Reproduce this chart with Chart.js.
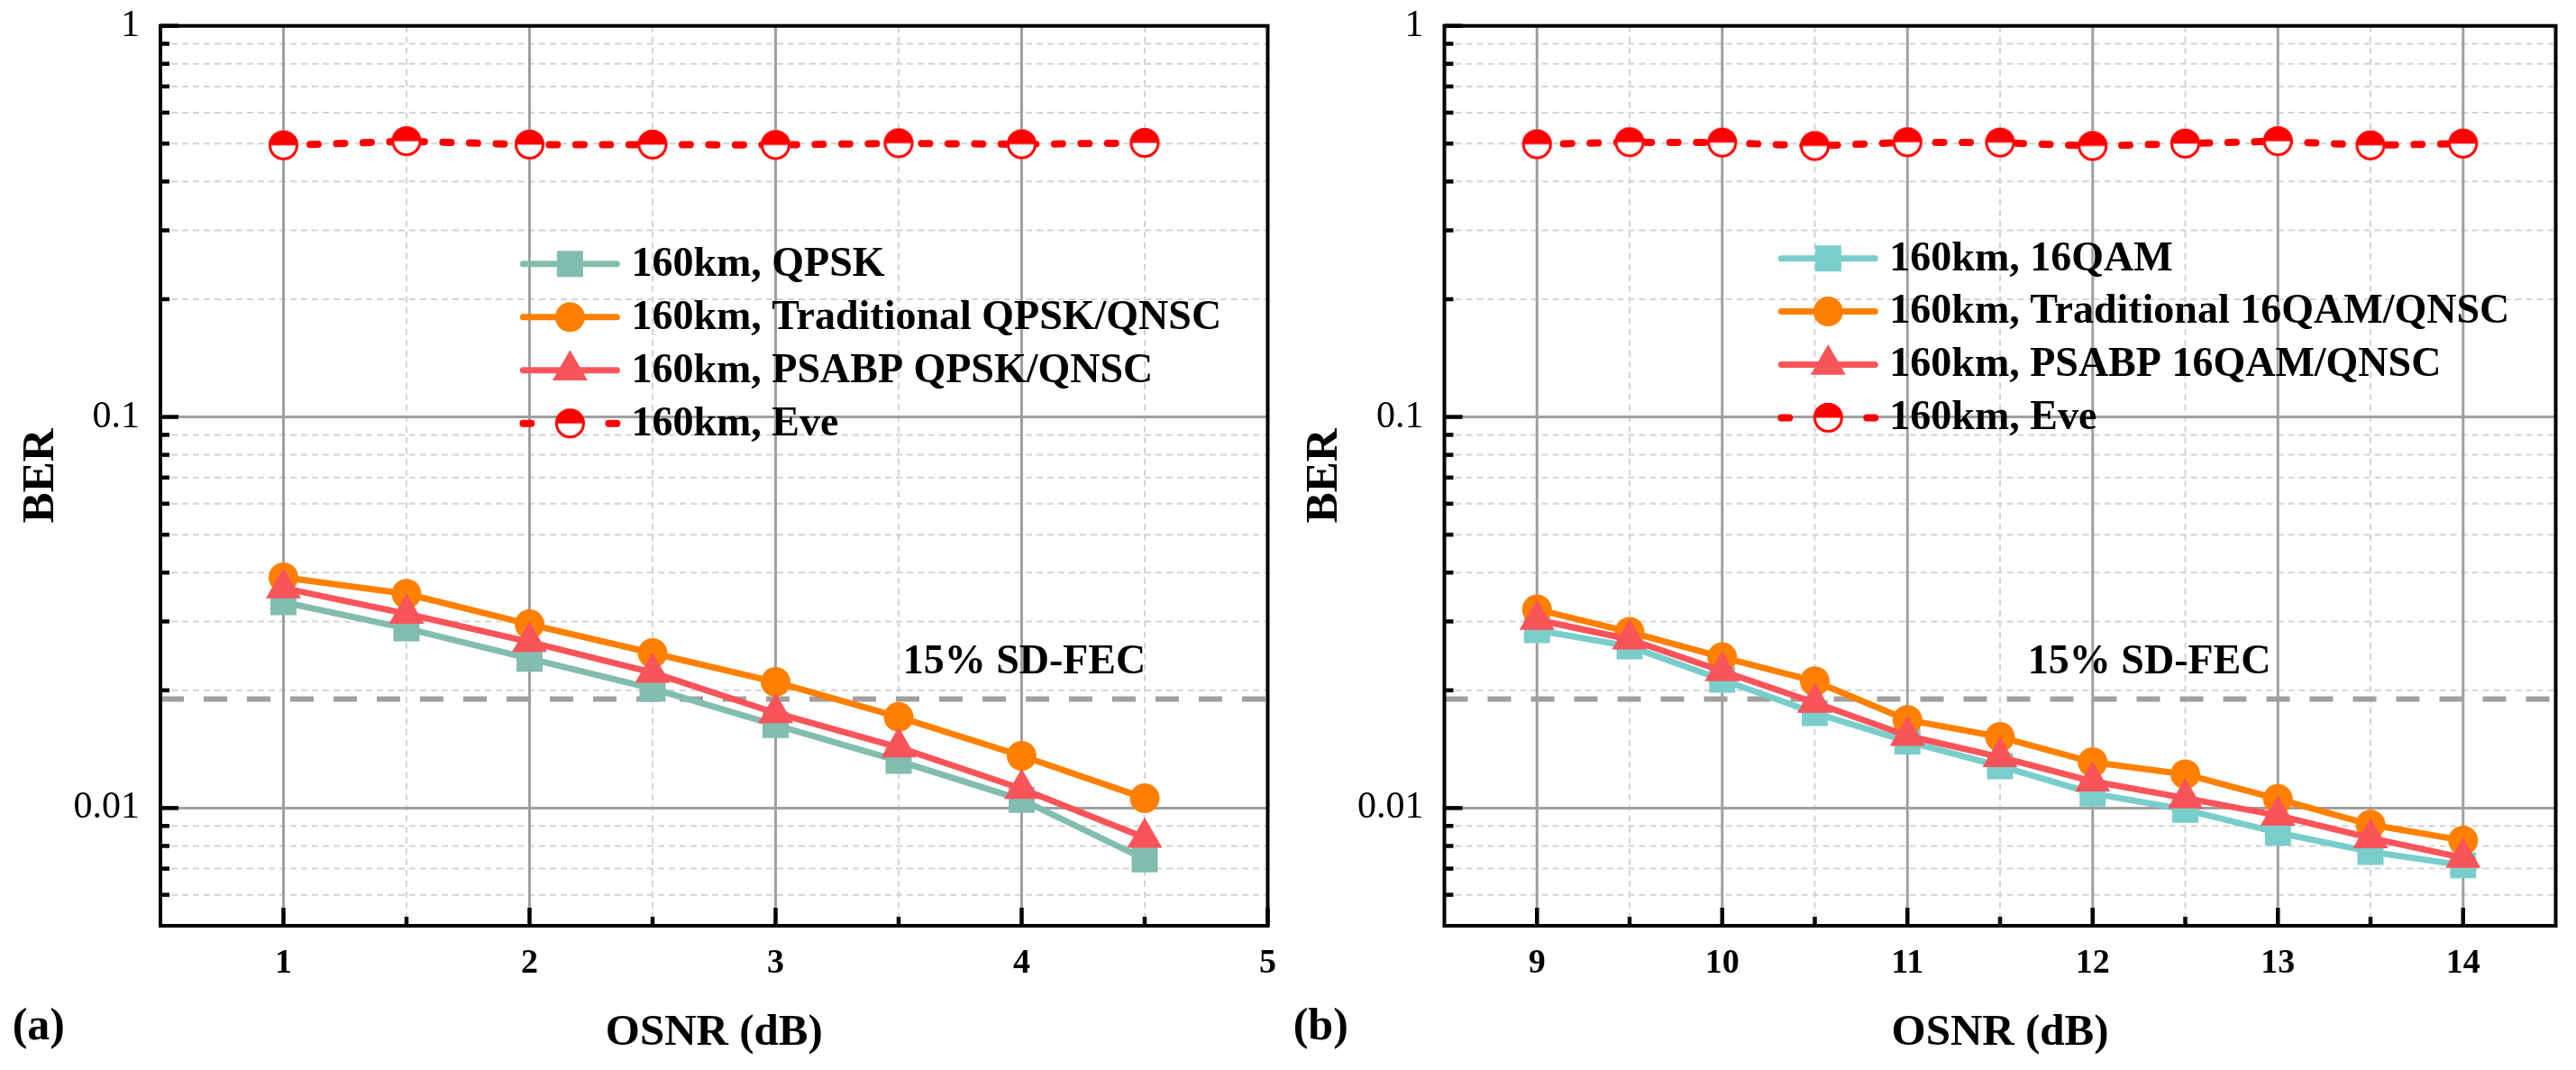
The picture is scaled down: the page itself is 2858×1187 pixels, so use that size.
<!DOCTYPE html>
<html>
<head>
<meta charset="utf-8">
<script src="https://cdn.jsdelivr.net/npm/chart.js@4.4.1/dist/chart.umd.min.js"></script>
<style>
html,body{margin:0;padding:0;background:#fff;overflow:hidden}
#wrap{position:relative;width:2858px;height:1187px;background:#fff}
canvas{position:absolute;top:0}
#ca{left:0}
#cb{left:1429px}
</style>
</head>
<body>
<div id="wrap">
<canvas id="ca" width="1429" height="1187"></canvas>
<canvas id="cb" width="1429" height="1187"></canvas>
</div>
<script>
// ---------------- data ----------------
const osnrA = [1, 1.5, 2, 2.5, 3, 3.5, 4, 4.5];
const berA_QPSK  = [0.0336, 0.0288, 0.0241, 0.0202, 0.0163, 0.0132, 0.0105, 0.0074];
const berA_Trad  = [0.0389, 0.0353, 0.0295, 0.0249, 0.0210, 0.0171, 0.0136, 0.0106];
const berA_PSABP = [0.0365, 0.0314, 0.0266, 0.0222, 0.0175, 0.0143, 0.0112, 0.0084];
const berA_Eve   = [0.495, 0.507, 0.497, 0.497, 0.496, 0.501, 0.498, 0.502];

const osnrB = [9, 9.5, 10, 10.5, 11, 11.5, 12, 12.5, 13, 13.5, 14];
const berB_16QAM = [0.0285, 0.0259, 0.0213, 0.0175, 0.0148, 0.0128, 0.0109, 0.0099, 0.00865, 0.00773, 0.00714];
const berB_Trad  = [0.0322, 0.0282, 0.0243, 0.0211, 0.0168, 0.0152, 0.0131, 0.0122, 0.01055, 0.00907, 0.00826];
const berB_PSABP = [0.0303, 0.0270, 0.0224, 0.0186, 0.0153, 0.0135, 0.0117, 0.0106, 0.00957, 0.00838, 0.00746];
const berB_Eve   = [0.498, 0.504, 0.503, 0.493, 0.504, 0.503, 0.493, 0.500, 0.507, 0.495, 0.500];

const fecThreshold = 0.019;
const fecText = '15% SD-FEC';

const labelsA = ['160km, QPSK', '160km, Traditional QPSK/QNSC', '160km, PSABP QPSK/QNSC', '160km, Eve'];
const labelsB = ['160km, 16QAM', '160km, Traditional 16QAM/QNSC', '160km, PSABP 16QAM/QNSC', '160km, Eve'];

const xRangeA = [0.5, 5];
const xRangeB = [8.5, 14.5];
const xMajorA = [1, 2, 3, 4, 5];
const xMinorA = [1.5, 2.5, 3.5, 4.5];
const xMajorB = [9, 10, 11, 12, 13, 14];
const xMinorB = [9.5, 10.5, 11.5, 12.5, 13.5];

const yRange = [0.005, 1];
const yMajorTicks = [0.01, 0.1, 1];
const yTickLabels = ['0.01', '0.1', '1'];
const yMinorTicks = [0.006, 0.007, 0.008, 0.009,
                     0.02, 0.03, 0.04, 0.05, 0.06, 0.07, 0.08, 0.09,
                     0.2, 0.3, 0.4, 0.5, 0.6, 0.7, 0.8, 0.9];

const xTitle = 'OSNR (dB)';
const yTitle = 'BER';

// ---------------- styling ----------------
const FONT = "'Liberation Serif', 'Times New Roman', serif";

function halfCircle(r, color) {
  const s = Math.ceil(2 * r + 4);
  const c = document.createElement('canvas');
  c.width = s; c.height = s;
  const g = c.getContext('2d');
  const m = s / 2;
  g.fillStyle = '#fff';
  g.beginPath(); g.arc(m, m, r, 0, 2 * Math.PI); g.fill();
  g.fillStyle = color;
  g.beginPath(); g.arc(m, m, r, Math.PI, 2 * Math.PI); g.closePath(); g.fill();
  g.strokeStyle = color; g.lineWidth = 3;
  g.beginPath(); g.arc(m, m, r - 1.5, 0, 2 * Math.PI); g.stroke();
  return c;
}
const eveMarker = halfCircle(16.5, '#FF0000');

function series(label, xs, ys, color, style, radius, order, extra) {
  return Object.assign({
    label,
    data: xs.map((x, i) => ({ x, y: ys[i] })),
    borderColor: color,
    backgroundColor: color,
    pointBackgroundColor: color,
    pointBorderColor: color,
    pointBorderWidth: 0,
    pointStyle: style,
    pointRadius: radius,
    pointHoverRadius: radius,
    borderWidth: 7,
    tension: 0,
    borderCapStyle: 'round',
    borderJoinStyle: 'round',
    order,
    showInLegend: true
  }, extra || {});
}

function fecSeries(range) {
  return {
    label: 'FEC',
    data: [{ x: range[0], y: fecThreshold }, { x: range[1], y: fecThreshold }],
    borderColor: '#A0A0A0',
    borderWidth: 6,
    borderDash: [26, 22],
    pointRadius: 0,
    borderCapStyle: 'butt',
    order: 10,
    showInLegend: false
  };
}

const panelPlugin = {
  id: 'panel',
  beforeDatasetsDraw(chart, _args, o) {
    const { ctx, chartArea: a } = chart;
    const xs = chart.scales.x, ys = chart.scales.y;
    ctx.save();
    ctx.beginPath(); ctx.rect(a.left, a.top, a.right - a.left, a.bottom - a.top); ctx.clip();
    const vline = v => { const p = xs.getPixelForValue(v); ctx.beginPath(); ctx.moveTo(p, a.top); ctx.lineTo(p, a.bottom); ctx.stroke(); };
    const hline = v => { const p = ys.getPixelForValue(v); ctx.beginPath(); ctx.moveTo(a.left, p); ctx.lineTo(a.right, p); ctx.stroke(); };
    ctx.strokeStyle = '#D4D4D4'; ctx.lineWidth = 2; ctx.setLineDash([7, 5]);
    o.xMinor.forEach(vline); yMinorTicks.forEach(hline);
    ctx.setLineDash([]); ctx.strokeStyle = '#A0A0A0'; ctx.lineWidth = 3;
    o.xMajor.forEach(vline); yMajorTicks.forEach(hline);
    ctx.restore();
  },
  afterDatasetsDraw(chart, _args, o) {
    const { ctx, chartArea: a } = chart;
    const xs = chart.scales.x, ys = chart.scales.y;
    ctx.save();
    // FEC label
    ctx.fillStyle = '#000';
    ctx.font = 'bold 46px ' + FONT;
    ctx.textAlign = 'left'; ctx.textBaseline = 'alphabetic';
    ctx.fillText(fecText, xs.getPixelForValue(o.fecLabelX), ys.getPixelForValue(fecThreshold) - 28);

    // legend
    const items = chart.data.datasets.filter(d => d.showInLegend);
    items.forEach((d, i) => {
      const cy = o.legendY + i * o.legendGap;
      const x0 = o.legendX, x1 = o.legendX + o.legendLen;
      ctx.save();
      ctx.strokeStyle = d.borderColor; ctx.lineWidth = d.borderWidth;
      ctx.lineCap = 'round';
      ctx.setLineDash(d.legendDash || []);
      ctx.beginPath(); ctx.moveTo(x0 + 4, cy); ctx.lineTo(x1 - 4, cy); ctx.stroke();
      ctx.setLineDash([]);
      ctx.fillStyle = d.pointBackgroundColor; ctx.strokeStyle = d.pointBorderColor;
      const cx = (x0 + x1) / 2;
      if (Chart.helpers && Chart.helpers.drawPoint) {
        Chart.helpers.drawPoint(ctx, { pointStyle: d.pointStyle, radius: d.pointRadius, rotation: 0, borderWidth: 0 }, cx, cy);
      }
      ctx.restore();
      ctx.fillStyle = '#000';
      ctx.font = 'bold 46px ' + FONT;
      ctx.textAlign = 'left'; ctx.textBaseline = 'middle';
      ctx.fillText(d.label, o.legendX + o.legendLen + 12, cy + 1);
    });

    // frame
    ctx.strokeStyle = '#000'; ctx.lineWidth = 4; ctx.setLineDash([]);
    ctx.strokeRect(a.left, a.top, a.right - a.left, a.bottom - a.top);
    // inward ticks
    ctx.lineWidth = 4.5; ctx.lineCap = 'butt';
    const yt = (v, len) => { const p = ys.getPixelForValue(v); ctx.beginPath(); ctx.moveTo(a.left, p); ctx.lineTo(a.left + len, p); ctx.stroke(); };
    const xt = (v, len) => { const p = xs.getPixelForValue(v); ctx.beginPath(); ctx.moveTo(p, a.bottom); ctx.lineTo(p, a.bottom - len); ctx.stroke(); };
    yMinorTicks.forEach(v => yt(v, 10));
    yMajorTicks.forEach(v => yt(v, 20));
    o.xMinor.forEach(v => xt(v, 10));
    o.xMajor.forEach(v => xt(v, 20));

    // panel label
    ctx.fillStyle = '#000';
    ctx.font = 'bold 50px ' + FONT;
    ctx.textAlign = 'left'; ctx.textBaseline = 'alphabetic';
    ctx.fillText(o.panelLabel, o.panelLabelX, o.panelLabelY);
    ctx.restore();
  }
};

function makeChart(id, cfg) {
  return new Chart(document.getElementById(id), {
    type: 'line',
    data: { datasets: cfg.datasets },
    plugins: [panelPlugin],
    options: {
      responsive: false,
      animation: false,
      devicePixelRatio: 1,
      events: [],
      layout: { padding: { left: 0, right: cfg.padRight, top: 28.7, bottom: 0 } },
      plugins: {
        legend: { display: false },
        tooltip: { enabled: false },
        panel: cfg.panel
      },
      scales: {
        x: {
          type: 'linear',
          min: cfg.xRange[0], max: cfg.xRange[1],
          afterBuildTicks: s => { s.ticks = cfg.panel.xMajor.map(v => ({ value: v })); },
          afterFit: s => { s.height = 160; s.paddingLeft = 0; s.paddingRight = 0; },
          grid: { display: false, drawTicks: false },
          border: { display: false },
          ticks: {
            autoSkip: false, maxRotation: 0, padding: 19, color: '#000',
            font: { family: FONT, size: 38, weight: 'bold' },
            callback: v => String(v)
          },
          title: {
            display: true, text: xTitle, color: '#000',
            font: { family: FONT, size: 49, weight: 'bold' },
            padding: { top: 0, bottom: 11 }
          }
        },
        y: {
          type: 'logarithmic',
          min: yRange[0], max: yRange[1],
          afterBuildTicks: s => { s.ticks = yMajorTicks.map(v => ({ value: v })); },
          afterFit: s => { s.width = cfg.yWidth; s.paddingTop = 0; s.paddingBottom = 0; },
          grid: { display: false, drawTicks: false },
          border: { display: false },
          ticks: {
            autoSkip: false, padding: 23, color: '#000',
            font: { family: FONT, size: 42 },
            callback: (v, i) => yTickLabels[i]
          },
          title: {
            display: true, text: yTitle, color: '#000',
            font: { family: FONT, size: 51, weight: 'bold' },
            padding: { top: cfg.yTitlePad, bottom: 0 }
          }
        }
      }
    }
  });
}

const tealA = '#82BDAF', tealB = '#79CECB', orange = '#FF8000', coral = '#F9545A', red = '#FF0000';
const eveExtra = { borderDash: [9, 20.5], borderWidth: 8, legendDash: [9, 86] };

makeChart('ca', {
  xRange: xRangeA, padRight: 14.5, yWidth: 178, yTitlePad: 15.6,
  datasets: [
    series(labelsA[0], osnrA, berA_QPSK, tealA, 'rect', 20.5, 4),
    series(labelsA[1], osnrA, berA_Trad, orange, 'circle', 16.5, 3),
    series(labelsA[2], osnrA, berA_PSABP, coral, 'triangle', 22.5, 2),
    series(labelsA[3], osnrA, berA_Eve, red, eveMarker, 16.5, 1, eveExtra),
    fecSeries(xRangeA)
  ],
  panel: {
    xMajor: xMajorA, xMinor: xMinorA,
    fecLabelX: 3.517,
    legendX: 576.4, legendLen: 112, legendY: 292.8, legendGap: 59,
    panelLabel: '(a)', panelLabelX: 13.7, panelLabelY: 1153
  }
});

makeChart('cb', {
  xRange: xRangeB, padRight: 19.5, yWidth: 173.5, yTitlePad: 10.2,
  datasets: [
    series(labelsB[0], osnrB, berB_16QAM, tealB, 'rect', 20.5, 4),
    series(labelsB[1], osnrB, berB_Trad, orange, 'circle', 16.5, 3),
    series(labelsB[2], osnrB, berB_PSABP, coral, 'triangle', 22.5, 2),
    series(labelsB[3], osnrB, berB_Eve, red, eveMarker, 16.5, 1, eveExtra),
    fecSeries(xRangeB)
  ],
  panel: {
    xMajor: xMajorB, xMinor: xMinorB,
    fecLabelX: 11.65,
    legendX: 1972.3 - 1429, legendLen: 112, legendY: 286.7, legendGap: 58.9,
    panelLabel: '(b)', panelLabelX: 5.7, panelLabelY: 1153
  }
});
</script>
</body>
</html>
